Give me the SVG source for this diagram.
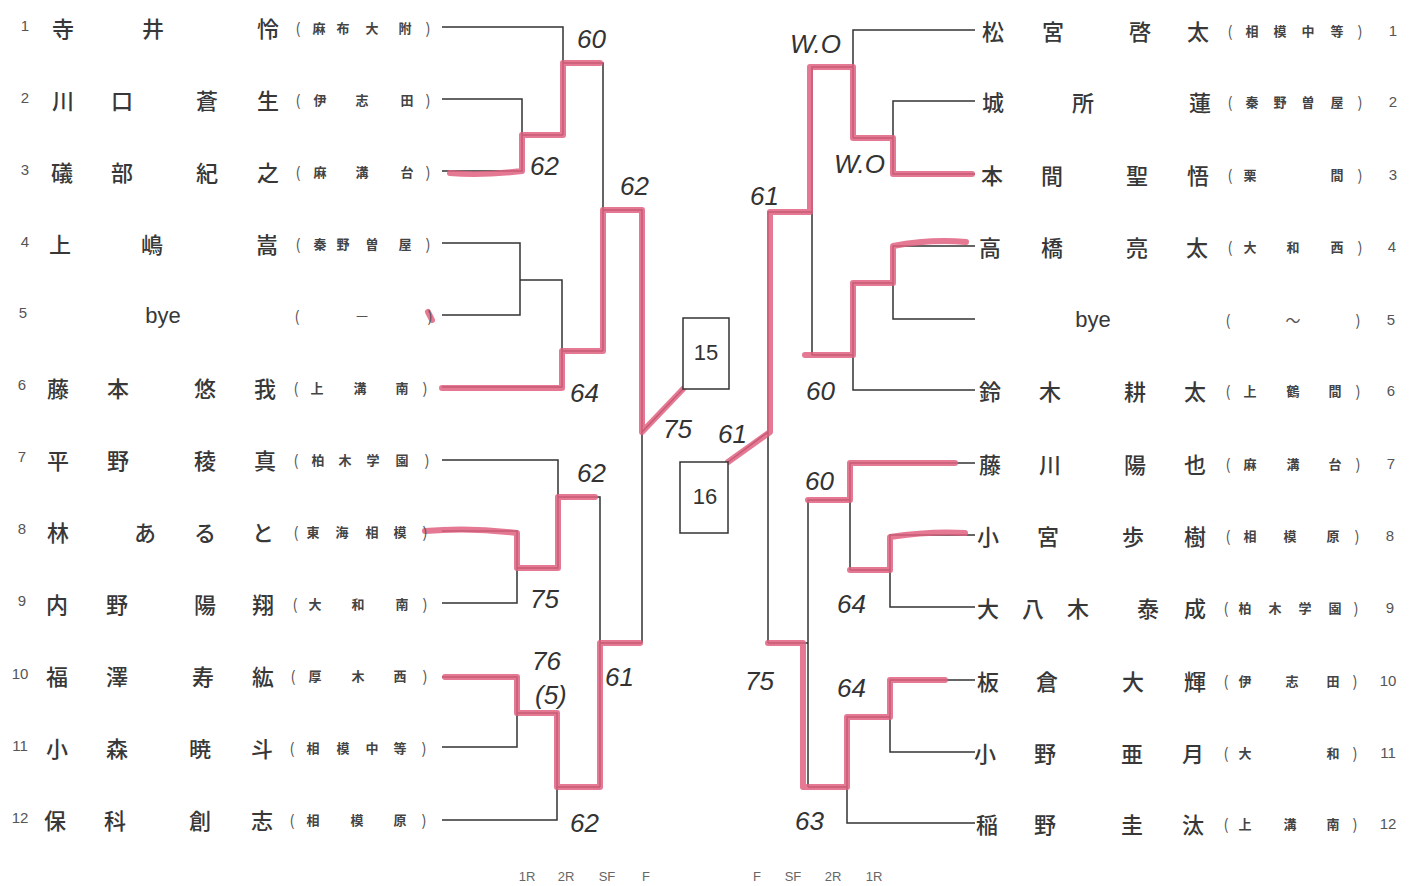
<svg xmlns="http://www.w3.org/2000/svg" width="1417" height="886" viewBox="0 0 1417 886">
<style>
text{dominant-baseline:central;text-anchor:middle}
.n{font-family:"Noto Sans CJK JP","Noto Sans",sans-serif;font-size:22px;fill:#383838;font-weight:500}
.s{font-family:"Noto Sans CJK JP","Noto Sans",sans-serif;font-size:13px;fill:#444;font-weight:700}
.p{font-family:"Noto Sans CJK JP",sans-serif;font-size:15px;fill:#555}
.k{font-family:"Liberation Sans",sans-serif;font-size:15px;fill:#555}
.b{font-family:"Liberation Sans",sans-serif;font-size:22px;fill:#383838}
.ln{stroke:#333;stroke-width:1.5;fill:none}
.rd{stroke:#e0607f;stroke-opacity:.85;stroke-width:6;fill:none;stroke-linejoin:round;stroke-linecap:round}
.hw{font-family:"Liberation Sans",sans-serif;font-style:italic;font-size:26px;fill:#333;text-anchor:start;dominant-baseline:auto}
.ax{font-family:"Liberation Sans",sans-serif;font-size:13px;fill:#666}
.bx{fill:#fff;stroke:#333;stroke-width:1.5}
.bn{font-family:"Liberation Sans",sans-serif;font-size:22px;fill:#333}
</style>
<rect width="1417" height="886" fill="#fff"/>

<g id="connectors">
<path class="ln" d="M442,27 H563 V135 M442,99 H522 V171 H442 M522,135 H563 M563,63 H603 V351 M603,210 H642 V643 M442,243 H520 V315 H442 M520,280 H562 V387 H442 M562,351 H603 M442,460 H558 V568 H517 M442,531 H517 V603 H442 M558,497 H600 V787 M442,677 H517 V747 H442 M517,713 H557 V820 H442 M557,787 H600 M600,643 H642 M642,432 L683,389"/>
<path class="ln" d="M975,30 H853 V138 M975,101 H893 V174 H975 M893,138 H853 M853,67 H812 V355 M812,212 H768 V643 M975,246 H893 V319 H975 M893,283 H853 V390 H975 M853,355 H812 M975,463 H850 V570 M975,535 H890 V607 H975 M890,570 H850 M850,500 H808 V787 M975,680 H890 V752 H975 M890,717 H847 V823 H975 M847,787 H808 M808,643 H768 M728,462 L768,432"/>
</g>
<g id="highlights">
<path class="rd" d="M450,173 Q480,176 522,171 V135 H563 V63 H600"/>
<path class="rd" d="M442,388 H562 V351 H603 V210 H642 V432 L683,389"/>
<path class="rd" d="M425,531 Q470,527 517,533 V568 H558 V497 H595"/>
<path class="rd" d="M445,677 H517 V713 H557 V787 H600 V643 H640"/>
<path class="rd" d="M428,312 L432,320" stroke-width="4"/>
<path class="rd" d="M972,174 H893 V138 H853 V67 H810 V212 H770 V432 L728,462"/>
<path class="rd" d="M966,242 Q930,239 893,246 V283 H853 V355 H805"/>
<path class="rd" d="M955,463 H850 V500 H808"/>
<path class="rd" d="M965,533 Q930,531 890,537 V570 H850"/>
<path class="rd" d="M945,680 H890 V717 H847 V787 H803 V643 H768"/>
</g>

<g id="box15"><rect class="bx" x="683" y="318" width="46" height="71"/><text class="bn" x="706" y="352">15</text></g>
<g id="box16"><rect class="bx" x="680" y="462" width="48" height="71"/><text class="bn" x="705" y="496">16</text></g>

<g id="scores">
<text class="hw" x="577" y="48">60</text>
<text class="hw" x="530" y="175">62</text>
<text class="hw" x="620" y="195">62</text>
<text class="hw" x="570" y="402">64</text>
<text class="hw" x="663" y="438">75</text>
<text class="hw" x="718" y="443">61</text>
<text class="hw" x="577" y="482">62</text>
<text class="hw" x="530" y="608">75</text>
<text class="hw" x="532" y="670">76</text>
<text class="hw" x="535" y="704" font-size="22">(5)</text>
<text class="hw" x="605" y="686">61</text>
<text class="hw" x="570" y="832">62</text>
<text class="hw" x="790" y="53">W.O</text>
<text class="hw" x="834" y="173" font-size="22">W.O</text>
<text class="hw" x="750" y="205">61</text>
<text class="hw" x="806" y="400">60</text>
<text class="hw" x="805" y="490">60</text>
<text class="hw" x="837" y="613">64</text>
<text class="hw" x="745" y="690">75</text>
<text class="hw" x="837" y="697">64</text>
<text class="hw" x="795" y="830">63</text>
</g>

<g id="L1"><text class="k" x="25" y="25">1</text><text class="n" x="63" y="27">寺</text><text class="n" x="153" y="27">井</text><text class="n" x="268" y="27">怜</text><text class="p" x="298" y="27">(</text><text class="s" x="319" y="27">麻</text><text class="s" x="343" y="27">布</text><text class="s" x="372" y="27">大</text><text class="s" x="405" y="27">附</text><text class="p" x="428" y="27">)</text></g>
<g id="L2"><text class="k" x="25" y="97">2</text><text class="n" x="63" y="99">川</text><text class="n" x="122" y="99">口</text><text class="n" x="207" y="99">蒼</text><text class="n" x="268" y="99">生</text><text class="p" x="298" y="99">(</text><text class="s" x="320" y="99">伊</text><text class="s" x="362" y="99">志</text><text class="s" x="407" y="99">田</text><text class="p" x="428" y="99">)</text></g>
<g id="L3"><text class="k" x="25" y="169">3</text><text class="n" x="62" y="171">礒</text><text class="n" x="122" y="171">部</text><text class="n" x="207" y="171">紀</text><text class="n" x="268" y="171">之</text><text class="p" x="298" y="171">(</text><text class="s" x="320" y="171">麻</text><text class="s" x="362" y="171">溝</text><text class="s" x="407" y="171">台</text><text class="p" x="428" y="171">)</text></g>
<g id="L4"><text class="k" x="25" y="241">4</text><text class="n" x="60" y="243">上</text><text class="n" x="152" y="243">嶋</text><text class="n" x="267" y="243">嵩</text><text class="p" x="298" y="243">(</text><text class="s" x="320" y="243">秦</text><text class="s" x="343" y="243">野</text><text class="s" x="372" y="243">曽</text><text class="s" x="405" y="243">屋</text><text class="p" x="428" y="243">)</text></g>
<g id="L5"><text class="k" x="23" y="312">5</text><text class="b" x="163" y="315">bye</text><text class="p" x="297" y="315">(</text><text class="p" x="362" y="315">－</text><text class="p" x="430" y="315">)</text></g>
<g id="L6"><text class="k" x="22" y="384">6</text><text class="n" x="58" y="387">藤</text><text class="n" x="118" y="387">本</text><text class="n" x="205" y="387">悠</text><text class="n" x="265" y="387">我</text><text class="p" x="296" y="387">(</text><text class="s" x="317" y="387">上</text><text class="s" x="360" y="387">溝</text><text class="s" x="402" y="387">南</text><text class="p" x="425" y="387">)</text></g>
<g id="L7"><text class="k" x="22" y="456">7</text><text class="n" x="58" y="459">平</text><text class="n" x="118" y="459">野</text><text class="n" x="205" y="459">稜</text><text class="n" x="265" y="459">真</text><text class="p" x="296" y="459">(</text><text class="s" x="318" y="459">柏</text><text class="s" x="345" y="459">木</text><text class="s" x="373" y="459">学</text><text class="s" x="402" y="459">園</text><text class="p" x="427" y="459">)</text></g>
<g id="L8"><text class="k" x="22" y="528">8</text><text class="n" x="58" y="531">林</text><text class="n" x="145" y="531">あ</text><text class="n" x="205" y="531">る</text><text class="n" x="263" y="531">と</text><text class="p" x="296" y="531">(</text><text class="s" x="313" y="531">東</text><text class="s" x="342" y="531">海</text><text class="s" x="372" y="531">相</text><text class="s" x="400" y="531">模</text><text class="p" x="425" y="531">)</text></g>
<g id="L9"><text class="k" x="22" y="600">9</text><text class="n" x="57" y="603">内</text><text class="n" x="117" y="603">野</text><text class="n" x="205" y="603">陽</text><text class="n" x="263" y="603">翔</text><text class="p" x="295" y="603">(</text><text class="s" x="315" y="603">大</text><text class="s" x="358" y="603">和</text><text class="s" x="402" y="603">南</text><text class="p" x="425" y="603">)</text></g>
<g id="L10"><text class="k" x="20" y="673">10</text><text class="n" x="57" y="675">福</text><text class="n" x="117" y="675">澤</text><text class="n" x="203" y="675">寿</text><text class="n" x="263" y="675">紘</text><text class="p" x="293" y="675">(</text><text class="s" x="315" y="675">厚</text><text class="s" x="358" y="675">木</text><text class="s" x="400" y="675">西</text><text class="p" x="425" y="675">)</text></g>
<g id="L11"><text class="k" x="20" y="745">11</text><text class="n" x="57" y="747">小</text><text class="n" x="117" y="747">森</text><text class="n" x="200" y="747">暁</text><text class="n" x="262" y="747">斗</text><text class="p" x="292" y="747">(</text><text class="s" x="313" y="747">相</text><text class="s" x="343" y="747">模</text><text class="s" x="372" y="747">中</text><text class="s" x="400" y="747">等</text><text class="p" x="424" y="747">)</text></g>
<g id="L12"><text class="k" x="20" y="817">12</text><text class="n" x="55" y="819">保</text><text class="n" x="115" y="819">科</text><text class="n" x="200" y="819">創</text><text class="n" x="262" y="819">志</text><text class="p" x="292" y="819">(</text><text class="s" x="313" y="819">相</text><text class="s" x="357" y="819">模</text><text class="s" x="400" y="819">原</text><text class="p" x="424" y="819">)</text></g>

<g id="R1"><text class="n" x="993" y="30">松</text><text class="n" x="1053" y="30">宮</text><text class="n" x="1140" y="30">啓</text><text class="n" x="1198" y="30">太</text><text class="p" x="1230" y="30">(</text><text class="s" x="1252" y="30">相</text><text class="s" x="1280" y="30">模</text><text class="s" x="1308" y="30">中</text><text class="s" x="1337" y="30">等</text><text class="p" x="1360" y="30">)</text><text class="k" x="1393" y="30">1</text></g>
<g id="R2"><text class="n" x="993" y="101">城</text><text class="n" x="1083" y="101">所</text><text class="n" x="1200" y="101">蓮</text><text class="p" x="1230" y="101">(</text><text class="s" x="1252" y="101">秦</text><text class="s" x="1280" y="101">野</text><text class="s" x="1308" y="101">曽</text><text class="s" x="1337" y="101">屋</text><text class="p" x="1360" y="101">)</text><text class="k" x="1393" y="101">2</text></g>
<g id="R3"><text class="n" x="992" y="174">本</text><text class="n" x="1052" y="174">間</text><text class="n" x="1137" y="174">聖</text><text class="n" x="1198" y="174">悟</text><text class="p" x="1230" y="174">(</text><text class="s" x="1250" y="174">栗</text><text class="s" x="1337" y="174">間</text><text class="p" x="1360" y="174">)</text><text class="k" x="1393" y="174">3</text></g>
<g id="R4"><text class="n" x="990" y="246">高</text><text class="n" x="1052" y="246">橋</text><text class="n" x="1137" y="246">亮</text><text class="n" x="1197" y="246">太</text><text class="p" x="1230" y="246">(</text><text class="s" x="1250" y="246">大</text><text class="s" x="1293" y="246">和</text><text class="s" x="1337" y="246">西</text><text class="p" x="1360" y="246">)</text><text class="k" x="1392" y="246">4</text></g>
<g id="R5"><text class="b" x="1093" y="319">bye</text><text class="p" x="1228" y="319">(</text><text class="p" x="1293" y="319">～</text><text class="p" x="1358" y="319">)</text><text class="k" x="1391" y="319">5</text></g>
<g id="R6"><text class="n" x="990" y="390">鈴</text><text class="n" x="1050" y="390">木</text><text class="n" x="1135" y="390">耕</text><text class="n" x="1195" y="390">太</text><text class="p" x="1228" y="390">(</text><text class="s" x="1250" y="390">上</text><text class="s" x="1293" y="390">鶴</text><text class="s" x="1335" y="390">間</text><text class="p" x="1358" y="390">)</text><text class="k" x="1391" y="390">6</text></g>
<g id="R7"><text class="n" x="990" y="463">藤</text><text class="n" x="1050" y="463">川</text><text class="n" x="1135" y="463">陽</text><text class="n" x="1195" y="463">也</text><text class="p" x="1228" y="463">(</text><text class="s" x="1250" y="463">麻</text><text class="s" x="1293" y="463">溝</text><text class="s" x="1335" y="463">台</text><text class="p" x="1358" y="463">)</text><text class="k" x="1391" y="463">7</text></g>
<g id="R8"><text class="n" x="988" y="535">小</text><text class="n" x="1048" y="535">宮</text><text class="n" x="1133" y="535">歩</text><text class="n" x="1195" y="535">樹</text><text class="p" x="1228" y="535">(</text><text class="s" x="1250" y="535">相</text><text class="s" x="1290" y="535">模</text><text class="s" x="1333" y="535">原</text><text class="p" x="1357" y="535">)</text><text class="k" x="1390" y="535">8</text></g>
<g id="R9"><text class="n" x="988" y="607">大</text><text class="n" x="1033" y="607">八</text><text class="n" x="1078" y="607">木</text><text class="n" x="1148" y="607">泰</text><text class="n" x="1195" y="607">成</text><text class="p" x="1226" y="607">(</text><text class="s" x="1245" y="607">柏</text><text class="s" x="1275" y="607">木</text><text class="s" x="1305" y="607">学</text><text class="s" x="1335" y="607">園</text><text class="p" x="1356" y="607">)</text><text class="k" x="1390" y="607">9</text></g>
<g id="R10"><text class="n" x="988" y="680">板</text><text class="n" x="1047" y="680">倉</text><text class="n" x="1133" y="680">大</text><text class="n" x="1195" y="680">輝</text><text class="p" x="1226" y="680">(</text><text class="s" x="1245" y="680">伊</text><text class="s" x="1292" y="680">志</text><text class="s" x="1333" y="680">田</text><text class="p" x="1355" y="680">)</text><text class="k" x="1388" y="680">10</text></g>
<g id="R11"><text class="n" x="985" y="752">小</text><text class="n" x="1045" y="752">野</text><text class="n" x="1132" y="752">亜</text><text class="n" x="1193" y="752">月</text><text class="p" x="1226" y="752">(</text><text class="s" x="1245" y="752">大</text><text class="s" x="1333" y="752">和</text><text class="p" x="1355" y="752">)</text><text class="k" x="1388" y="752">11</text></g>
<g id="R12"><text class="n" x="987" y="823">稲</text><text class="n" x="1045" y="823">野</text><text class="n" x="1132" y="823">圭</text><text class="n" x="1193" y="823">汰</text><text class="p" x="1226" y="823">(</text><text class="s" x="1245" y="823">上</text><text class="s" x="1290" y="823">溝</text><text class="s" x="1333" y="823">南</text><text class="p" x="1355" y="823">)</text><text class="k" x="1388" y="823">12</text></g>

<g id="axis">
<text class="ax" x="527" y="876">1R</text><text class="ax" x="566" y="876">2R</text><text class="ax" x="607" y="876">SF</text><text class="ax" x="646" y="876">F</text>
<text class="ax" x="757" y="876">F</text><text class="ax" x="793" y="876">SF</text><text class="ax" x="833" y="876">2R</text><text class="ax" x="874" y="876">1R</text>
</g>
</svg>
